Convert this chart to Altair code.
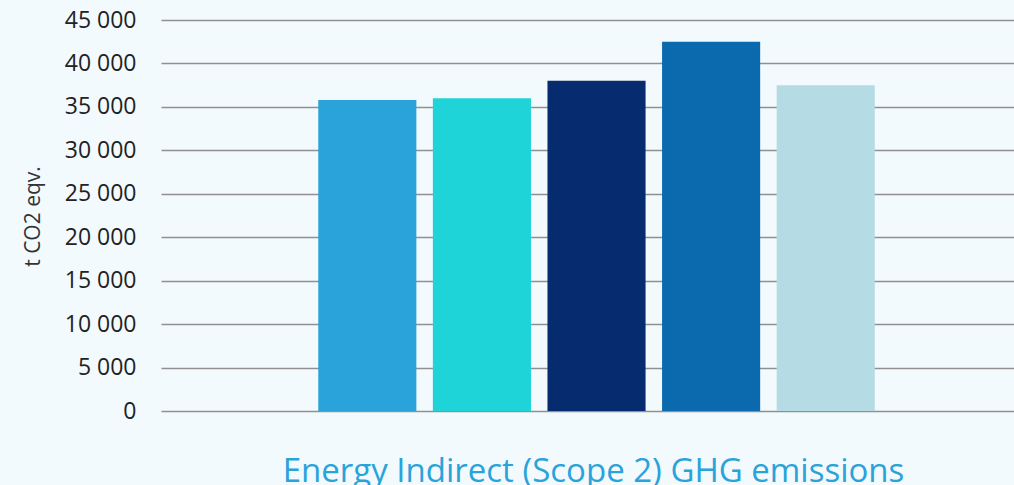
import altair as alt
import pandas as pd

years = ["2019", "2020", "2021", "2022", "2023"]
emissions = [35800, 36000, 38000, 42500, 37500]
colors = ["#2AA3DA", "#1FD4D9", "#062B6F", "#0B69AE", "#B5DBE5"]

df = pd.DataFrame({"year": years, "value": emissions})

label_expr = "replace(format(datum.value, ','), ',', ' ')"

# empty slots at both ends of the band scale leave the wide margins of the original
x_domain = ["_left"] + years + ["_right"]

chart = alt.Chart(df).mark_bar().encode(
    x=alt.X("year:N", axis=None,
            scale=alt.Scale(domain=x_domain, paddingInner=0.144,
                            paddingOuter=0.2936, align=0.634)),
    y=alt.Y("value:Q",
            scale=alt.Scale(domain=[0, 45000], nice=False),
            axis=alt.Axis(values=list(range(0, 45001, 5000)),
                          labelExpr=label_expr,
                          title="t CO2 eqv.",
                          titleFont="Open Sans", titleFontSize=21, titleFontWeight="normal",
                          titleColor="#333333", titleX=-128, titleY=196,
                          titleAngle=270, titleBaseline="middle", titleAlign="center",
                          labelFont="Open Sans", labelFontSize=23, labelColor="#222222",
                          labelPadding=25, ticks=False, tickSize=0, domain=False,
                          grid=True, gridColor="#909090", gridWidth=1.5)),
    color=alt.Color("year:N", scale=alt.Scale(domain=years, range=colors), legend=None),
).properties(
    width=853,
    height=391,
    title=alt.TitleParams(
        text="Energy Indirect (Scope 2) GHG emissions",
        orient="bottom", anchor="middle", baseline="alphabetic",
        font="Open Sans", fontSize=33, fontWeight="normal", color="#2AA3DA",
        offset=59, dx=6,
    ),
    autosize=alt.AutoSizeParams(type="none"),
    padding={"left": 161, "top": 20, "right": 0, "bottom": 74},
    background="#F3FAFE",
).configure_view(stroke=None)

chart.save("out.html", embed_options={"renderer": "svg", "actions": False})
